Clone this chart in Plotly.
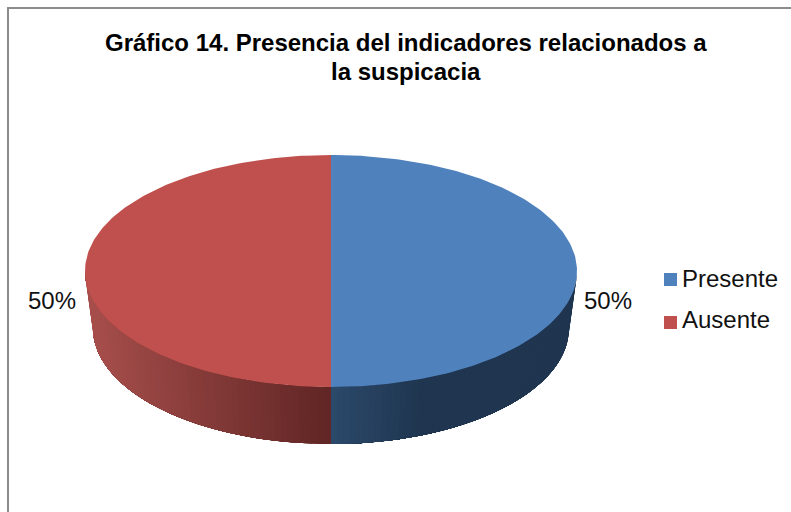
# plot.py
# Flat-projected "3D" pie drawn with filled scatter traces, geometry comes from the shares.

import numpy as np
import plotly.graph_objects as go

TITLE_LINES = ["Gráfico 14. Presencia del indicadores relacionados a", "la suspicacia"]
categories = ["Presente", "Ausente"]
values = [50, 50]
top_colors = ["#4F81BD", "#C0504D"]
# wall shading at the rim and at the front centre line
wall_rim = ["#1F3550", "#A84F4C"]
wall_mid = ["#2C4A6B", "#612625"]

W, H = 791, 512
CX, CY = 331, 271
RX, RY = 246, 116
DEPTH = 57
RX_BOTTOM = 238
KEY_X, KEY_Y, KEY_STEP = 670.5, 279.5, 43
KEY_TEXT_X, KEY_TEXT_Y, KEY_TEXT_STEP = 682, 281, 41
FONT = "Liberation Sans, Arial, sans-serif"
TEXT_SIZE = 24


def top_point(t):
    return CX + RX * np.sin(t), CY - RY * np.cos(t)


def bottom_point(t):
    return CX + RX_BOTTOM * np.sin(t), CY + DEPTH - RY * np.cos(t)


def mix(c1, c2, f):
    a = [int(c1[i:i + 2], 16) for i in (1, 3, 5)]
    b = [int(c2[i:i + 2], 16) for i in (1, 3, 5)]
    return "rgb({},{},{})".format(*[round(p + (q - p) * f) for p, q in zip(a, b)])


fig = go.Figure()

total = sum(values)
start = 0.0
label_x, label_y, label_text, label_pos = [], [], [], []
for i, (name, val) in enumerate(zip(categories, values)):
    end = start + 2 * np.pi * val / total

    # side wall, only the front part (90..270 deg clockwise from the top) is visible.
    # Each band runs to the far end of the slice and the next one paints over it, so no seams.
    a0, a1 = max(start, np.pi / 2), min(end, 3 * np.pi / 2)
    for t0 in np.linspace(a0, a1, 61)[:-1]:
        arc = np.linspace(t0, a1, 40)
        tx, ty = top_point(arc)
        bx, by = bottom_point(arc)
        if i == 0:
            # blue wall is only shaded for the first stretch from the centre line
            f = max(0, 1 - abs(tx[0] - CX) / 95)
        else:
            f = 1 - abs(tx[0] - CX) / RX
        color = mix(wall_rim[i], wall_mid[i], f)
        fig.add_trace(go.Scatter(
            x=[*tx, *bx[::-1], tx[0]], y=[*ty, *by[::-1], ty[0]],
            mode="lines", fill="toself", fillcolor=color,
            line=dict(color=color, width=0),
            hoverinfo="skip", showlegend=False,
        ))

    # top face
    ts = np.linspace(start, end, 181)
    px, py = top_point(ts)
    fig.add_trace(go.Scatter(
        x=[CX, *px, CX], y=[CY, *py, CY],
        mode="lines", fill="toself", fillcolor=top_colors[i],
        line=dict(color=top_colors[i], width=0),
        hoverinfo="skip", showlegend=False,
    ))

    # key entry, square and text placed apart since their spacing differs in the original
    fig.add_trace(go.Scatter(
        x=[KEY_X], y=[KEY_Y + i * KEY_STEP], mode="markers", name=name,
        marker=dict(symbol="square", size=13, color=top_colors[i]),
        hoverinfo="skip", showlegend=False,
    ))
    fig.add_trace(go.Scatter(
        x=[KEY_TEXT_X], y=[KEY_TEXT_Y + i * KEY_TEXT_STEP], mode="text",
        text=[name], textposition="middle right",
        textfont=dict(family=FONT, size=TEXT_SIZE, color="#111111"),
        hoverinfo="skip", showlegend=False,
    ))

    # outside label
    mid = (start + end) / 2
    mx, _ = top_point(mid)
    label_x.append(mx + (7 if mid < np.pi else -9))
    label_y.append(CY + 32)
    label_text.append(f"{val / total:.0%}")
    label_pos.append("middle right" if mid < np.pi else "middle left")
    start = end

fig.add_trace(go.Scatter(
    x=label_x, y=label_y, text=label_text, mode="text", textposition=label_pos,
    textfont=dict(family=FONT, size=TEXT_SIZE, color="#111111"),
    hoverinfo="skip", showlegend=False,
))

fig.update_layout(
    width=W, height=H,
    margin=dict(l=0, r=0, t=0, b=0),
    paper_bgcolor="white", plot_bgcolor="white",
    showlegend=False,
    xaxis=dict(range=[0, W], visible=False, fixedrange=True),
    yaxis=dict(range=[H, 0], visible=False, fixedrange=True),
    shapes=[
        dict(type="line", xref="x", yref="y", x0=7, x1=W, y0=8, y1=8,
             line=dict(color="#8C8C8C", width=2)),
        dict(type="line", xref="x", yref="y", x0=8, x1=8, y0=8, y1=H,
             line=dict(color="#8C8C8C", width=2)),
    ],
    annotations=[
        dict(text=TITLE_LINES[0], xref="x", yref="y", x=406, y=42.5, showarrow=False,
             font=dict(family=FONT, size=TEXT_SIZE, color="#000000", weight="bold")),
        dict(text=TITLE_LINES[1], xref="x", yref="y", x=406, y=71.5, showarrow=False,
             font=dict(family=FONT, size=TEXT_SIZE, color="#000000", weight="bold")),
    ],
)

# the browser's default body margin would push the figure off its pixel grid
fig.write_html(
    "out.html",
    config={"displayModeBar": False},
    post_script="document.body.style.margin = '0';",
)
